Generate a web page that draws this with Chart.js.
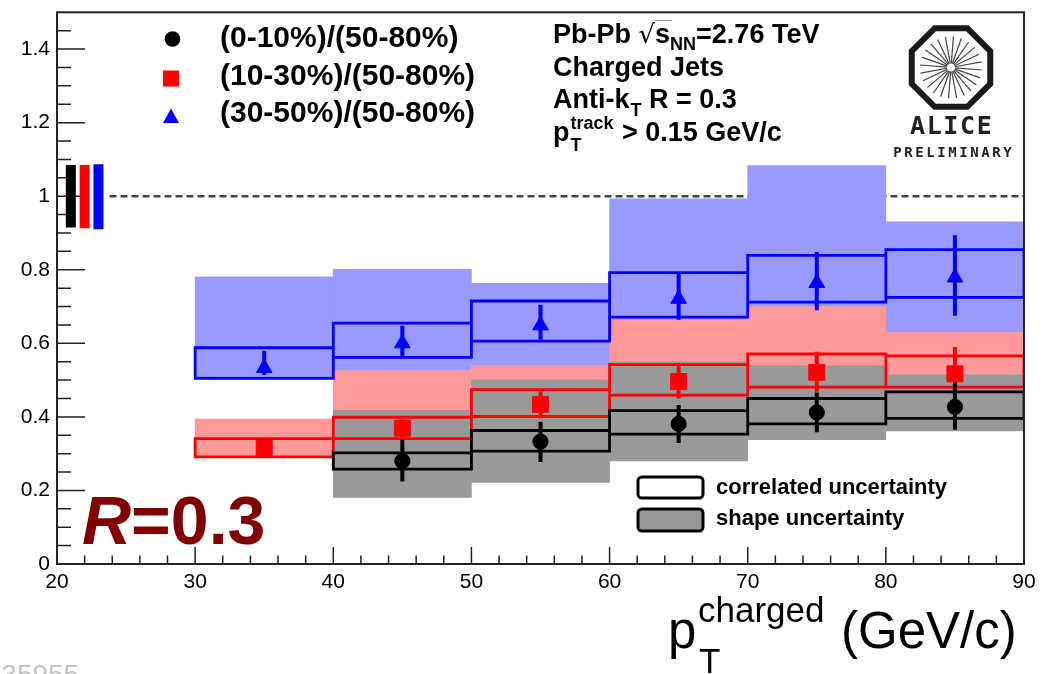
<!DOCTYPE html>
<html lang="en">
<head>
<meta charset="UTF-8">
<title>Charged jets R=0.3 central/peripheral ratio</title>
<script src="https://cdn.jsdelivr.net/npm/chart.js@4.4.0/dist/chart.umd.min.js"></script>
<style>
  html, body { margin: 0; padding: 0; background: #fff; }
  #wrap { width: 1045px; height: 674px; position: relative; }
</style>
</head>
<body>
<div id="wrap"><canvas id="rcp"></canvas></div>
<script>
// pT bins (GeV/c)
const binLow = [30, 40, 50, 60, 70, 80];
const binHigh = [40, 50, 60, 70, 80, 90];
const binCenter = [35, 45, 55, 65, 75, 85];

// (0-10%)/(50-80%) - nothing in the first bin
const c010 = [null, 0.280, 0.333, 0.381, 0.412, 0.427];
const c010StatLo = [null, 0.224, 0.277, 0.329, 0.358, 0.365];
const c010StatHi = [null, 0.338, 0.387, 0.432, 0.466, 0.494];
const c010CorrLo = [null, 0.258, 0.307, 0.353, 0.381, 0.396];
const c010CorrHi = [null, 0.302, 0.363, 0.417, 0.450, 0.468];
const c010ShapeLo = [null, 0.181, 0.222, 0.280, 0.338, 0.362];
const c010ShapeHi = [null, 0.418, 0.501, 0.550, 0.539, 0.514];

// (10-30%)/(50-80%)
const c1030 = [0.316, 0.369, 0.434, 0.496, 0.521, 0.517];
const c1030StatLo = [0.302, 0.345, 0.396, 0.450, 0.468, 0.462];
const c1030StatHi = [0.330, 0.392, 0.470, 0.539, 0.577, 0.590];
const c1030CorrLo = [0.291, 0.341, 0.401, 0.459, 0.481, 0.481];
const c1030CorrHi = [0.341, 0.399, 0.474, 0.542, 0.571, 0.566];
const c1030ShapeLo = [0.292, 0.300, 0.330, 0.330, 0.360, 0.400];
const c1030ShapeHi = [0.394, 0.526, 0.539, 0.664, 0.700, 0.630];

// (30-50%)/(50-80%)
const c3050 = [0.533, 0.600, 0.649, 0.721, 0.764, 0.779];
const c3050StatLo = [0.514, 0.564, 0.610, 0.664, 0.690, 0.675];
const c3050StatHi = [0.580, 0.648, 0.705, 0.790, 0.848, 0.894];
const c3050CorrLo = [0.505, 0.562, 0.606, 0.671, 0.712, 0.725];
const c3050CorrHi = [0.588, 0.655, 0.715, 0.792, 0.839, 0.855];
const c3050ShapeLo = [0.510, 0.450, 0.480, 0.500, 0.550, 0.580];
const c3050ShapeHi = [0.781, 0.801, 0.763, 0.993, 1.083, 0.930];

// normalisation uncertainty boxes drawn at unity
const normX = [21, 22, 23];
const normLo = [0.915, 0.913, 0.910];
const normHi = [1.085, 1.085, 1.087];
const normColor = ['#000000', '#ff0000', '#0000ff'];

const unityFrom = 23.8;

const seriesLabels = ['(0-10%)/(50-80%)', '(10-30%)/(50-80%)', '(30-50%)/(50-80%)'];

Chart.defaults.font.family = "'Liberation Sans', Arial, sans-serif";

// helpers turning the arrays into chart.js data
function floatBars(lo, hi) {
    return binCenter.map((x, i) => lo[i] == null ? null : { x: x, y: [lo[i], hi[i]] }).filter(Boolean);
}
function boxOutline(lo, hi) {
    const pts = [];
    binLow.forEach((x0, i) => {
        if (lo[i] == null) return;
        const x1 = binHigh[i];
        pts.push({ x: x0, y: lo[i] }, { x: x0, y: hi[i] }, { x: x1, y: hi[i] }, { x: x1, y: lo[i] }, { x: x0, y: lo[i] }, { x: x1, y: null });
    });
    return pts;
}
function errorBars(lo, hi) {
    const pts = [];
    binCenter.forEach((x, i) => {
        if (lo[i] == null) return;
        pts.push({ x: x, y: lo[i] }, { x: x, y: hi[i] }, { x: x, y: null });
    });
    return pts;
}
function points(vals) {
    return binCenter.map((x, i) => vals[i] == null ? null : { x: x, y: vals[i] }).filter(Boolean);
}

const bandOpts = { type: 'bar', grouped: false, barPercentage: 1, categoryPercentage: 1, borderWidth: 0 };
const boxOpts = { type: 'line', pointRadius: 0, borderWidth: 2.8, fill: false, spanGaps: false, borderCapStyle: 'square', borderJoinStyle: 'miter' };
const errOpts = { type: 'line', pointRadius: 0, borderWidth: 4, fill: false, spanGaps: false, borderCapStyle: 'butt' };
const markOpts = { type: 'line', showLine: false, pointBorderWidth: 1 };

const datasets = [
    { type: 'line', data: [{ x: unityFrom, y: 1 }, { x: 90, y: 1 }], borderColor: '#444', borderWidth: 2.5, borderDash: [7, 4], pointRadius: 0, order: 30 },
    Object.assign({ data: floatBars(c3050ShapeLo, c3050ShapeHi), backgroundColor: '#9999ff', order: 29 }, bandOpts),
    Object.assign({ data: floatBars(c1030ShapeLo, c1030ShapeHi), backgroundColor: '#ff9999', order: 28 }, bandOpts),
    Object.assign({ data: floatBars(c010ShapeLo, c010ShapeHi), backgroundColor: '#999999', order: 27 }, bandOpts)
];
normX.forEach((x, i) => {
    datasets.push({ type: 'line', data: [{ x: x, y: normLo[i] }, { x: x, y: normHi[i] }], borderColor: normColor[i], borderWidth: 10, borderCapStyle: 'butt', pointRadius: 0, order: 26 - i });
});
datasets.push(
    Object.assign({ data: boxOutline(c3050CorrLo, c3050CorrHi), borderColor: '#0000ff', order: 20 }, boxOpts),
    Object.assign({ data: boxOutline(c1030CorrLo, c1030CorrHi), borderColor: '#ff0000', order: 19 }, boxOpts),
    Object.assign({ data: boxOutline(c010CorrLo, c010CorrHi), borderColor: '#000000', order: 18 }, boxOpts),
    Object.assign({ data: errorBars(c3050StatLo, c3050StatHi), borderColor: '#0000ff', order: 12 }, errOpts),
    Object.assign({ data: errorBars(c1030StatLo, c1030StatHi), borderColor: '#ff0000', order: 11 }, errOpts),
    Object.assign({ data: errorBars(c010StatLo, c010StatHi), borderColor: '#000000', order: 10 }, errOpts),
    Object.assign({ label: seriesLabels[2], data: points(c3050), pointStyle: 'triangle', pointRadius: 9, backgroundColor: '#0000ff', borderColor: '#0000ff', order: 3 }, markOpts),
    Object.assign({ label: seriesLabels[1], data: points(c1030), pointStyle: 'rect', pointRadius: 11.3, backgroundColor: '#ff0000', borderColor: '#ff0000', order: 2 }, markOpts),
    Object.assign({ label: seriesLabels[0], data: points(c010), pointStyle: 'circle', pointRadius: 7.6, backgroundColor: '#000000', borderColor: '#000000', order: 1 }, markOpts)
);

// small text helper, returns the x after the string
function put(ctx, s, x, y, font, color) {
    ctx.font = font;
    ctx.fillStyle = color || '#000';
    ctx.textAlign = 'left';
    ctx.textBaseline = 'alphabetic';
    ctx.fillText(s, x, y);
    return x + ctx.measureText(s).width;
}
function roundBox(ctx, x, y, w, h, r) {
    ctx.beginPath();
    ctx.moveTo(x + r, y);
    ctx.arcTo(x + w, y, x + w, y + h, r);
    ctx.arcTo(x + w, y + h, x, y + h, r);
    ctx.arcTo(x, y + h, x, y, r);
    ctx.arcTo(x, y, x + w, y, r);
    ctx.closePath();
}

const rootDecor = {
    id: 'rootDecor',
    beforeDatasetsDraw(chart) {
        // ROOT style ticks pointing inwards
        const ctx = chart.ctx, a = chart.chartArea;
        const xs = chart.scales.x, ys = chart.scales.y;
        ctx.save();
        ctx.strokeStyle = '#222';
        ctx.lineWidth = 1.5;
        ctx.beginPath();
        for (let i = 1; i < 30; i++) {
            const py = ys.getPixelForValue(i * 0.05);
            const len = i % 4 === 0 ? 28 : 14;
            ctx.moveTo(a.left, py); ctx.lineTo(a.left + len, py);
        }
        for (let v = 22; v < 90; v += 2) {
            const px = xs.getPixelForValue(v);
            const len = v % 10 === 0 ? 17 : 8.5;
            ctx.moveTo(px, a.bottom); ctx.lineTo(px, a.bottom - len);
        }
        ctx.stroke();
        ctx.restore();
    },
    afterDatasetsDraw(chart) {
        const ctx = chart.ctx, a = chart.chartArea;
        ctx.save();
        // frame
        ctx.strokeStyle = '#222';
        ctx.lineWidth = 2;
        ctx.strokeRect(a.left, a.top, a.right - a.left, a.bottom - a.top);

        // series legend
        ctx.fillStyle = '#000';
        ctx.beginPath(); ctx.arc(172.5, 39, 7.8, 0, Math.PI * 2); ctx.fill();
        ctx.fillStyle = '#ff0000';
        ctx.fillRect(163, 70.5, 16, 16);
        ctx.fillStyle = '#0000ff';
        ctx.beginPath(); ctx.moveTo(171, 108.5); ctx.lineTo(179, 123); ctx.lineTo(163, 123); ctx.closePath(); ctx.fill();
        const B30 = "bold 30px 'Liberation Sans'";
        put(ctx, seriesLabels[0], 220, 47, B30);
        put(ctx, seriesLabels[1], 220, 85, B30);
        put(ctx, seriesLabels[2], 220, 122, B30);

        // collision system text
        const B27 = "bold 27px 'Liberation Sans'", B18 = "bold 18px 'Liberation Sans'";
        let x = put(ctx, 'Pb-Pb ', 553, 43, B27);
        x = put(ctx, '\u221A', x, 43, "26px 'DejaVu Sans'");
        const sx = x;
        x = put(ctx, 's', x, 43, B27);
        ctx.strokeStyle = '#999'; ctx.lineWidth = 1;
        ctx.beginPath(); ctx.moveTo(sx - 1, 20.5); ctx.lineTo(x + 2, 20.5); ctx.stroke();
        x = put(ctx, 'NN', x, 50, B18);
        put(ctx, '=2.76 TeV', x, 43, B27);
        put(ctx, 'Charged Jets', 553, 76, B27);
        x = put(ctx, 'Anti-k', 553, 108, B27);
        x = put(ctx, 'T', x + 1, 116, B18);
        put(ctx, ' R = 0.3', x, 108, B27);
        x = put(ctx, 'p', 553, 141, B27);
        const xt = put(ctx, 'track', x + 1, 129, B18);
        put(ctx, 'T', x + 1, 151, B18);
        put(ctx, ' > 0.15 GeV/c', xt + 1, 141, B27);

        // ALICE preliminary logo
        const cx = 951, cy = 67.5;
        ctx.strokeStyle = '#1a1a1a'; ctx.lineWidth = 6;
        ctx.beginPath();
        for (let k = 0; k < 8; k++) {
            const ang = Math.PI / 8 + k * Math.PI / 4;
            const px = cx + 42.5 * Math.cos(ang), py = cy + 42.5 * Math.sin(ang);
            if (k) ctx.lineTo(px, py); else ctx.moveTo(px, py);
        }
        ctx.closePath(); ctx.stroke();
        ctx.strokeStyle = '#444'; ctx.lineWidth = 1.2;
        for (let k = 0; k < 24; k++) {
            const ang = k * Math.PI / 12 + 0.08;
            ctx.beginPath();
            ctx.moveTo(cx + 4 * Math.cos(ang), cy + 4 * Math.sin(ang));
            ctx.lineTo(cx + 31 * Math.cos(ang), cy + 31 * Math.sin(ang));
            ctx.stroke();
        }
        ctx.fillStyle = '#222';
        ctx.textAlign = 'center';
        ctx.font = "bold 25px 'DejaVu Sans Mono'";
        'ALICE'.split('').forEach((ch, i) => ctx.fillText(ch, 917.5 + i * 16.7, 134));
        ctx.font = "bold 14px 'DejaVu Sans Mono'";
        'PRELIMINARY'.split('').forEach((ch, i) => ctx.fillText(ch, 897.5 + i * 11, 157));

        // uncertainty legend
        ctx.lineWidth = 3; ctx.strokeStyle = '#000';
        roundBox(ctx, 638, 477, 65, 21, 4); ctx.fillStyle = '#fff'; ctx.fill(); ctx.stroke();
        roundBox(ctx, 638, 509, 65, 22, 4); ctx.fillStyle = '#999'; ctx.fill(); ctx.stroke();
        const B22 = "bold 22px 'Liberation Sans'";
        put(ctx, 'correlated uncertainty', 716, 494, B22);
        put(ctx, 'shape uncertainty', 716, 525, B22);

        // jet radius label
        x = put(ctx, 'R', 82, 544, "italic bold 68px 'Liberation Sans'", '#800000');
        put(ctx, '=0.3', x, 544, "bold 68px 'Liberation Sans'", '#800000');

        // x axis title
        put(ctx, 'p', 668, 648, "51px 'Liberation Sans'");
        put(ctx, 'charged', 698, 622, "35px 'Liberation Sans'");
        put(ctx, 'T', 699, 673, "35px 'Liberation Sans'");
        put(ctx, '(GeV/c)', 841, 648, "51px 'Liberation Sans'");

        // report number at the corner
        put(ctx, '-35955', -8, 684, "28px 'Liberation Sans'", '#c4c4c4');
        ctx.restore();
    }
};

new Chart(document.getElementById('rcp'), {
    type: 'bar',
    data: { datasets: datasets },
    options: {
        responsive: true,
        maintainAspectRatio: false,
        animation: false,
        events: [],
        layout: { padding: { top: 5, right: 21, left: 0, bottom: 0 } },
        plugins: { legend: { display: false }, tooltip: { enabled: false } },
        scales: {
            x: {
                type: 'linear', min: 20, max: 90, offset: false,
                grid: { display: false, drawTicks: false, offset: false },
                border: { display: false },
                ticks: { stepSize: 10, padding: 6, color: '#000', font: { size: 21 }, maxRotation: 0, autoSkip: false },
                afterFit(s) { s.height = 110; s.paddingLeft = 0; s.paddingRight = 0; }
            },
            y: {
                type: 'linear', min: 0, max: 1.5,
                grid: { display: false, drawTicks: false },
                border: { display: false },
                ticks: {
                    stepSize: 0.2, padding: 7, color: '#000', font: { size: 21 }, autoSkip: false,
                    callback: v => v > 1.45 ? null : String(Math.round(v * 10) / 10)
                },
                afterFit(s) { s.width = 57; s.paddingTop = 0; s.paddingBottom = 0; }
            }
        }
    },
    plugins: [rootDecor]
});
</script>
</body>
</html>
